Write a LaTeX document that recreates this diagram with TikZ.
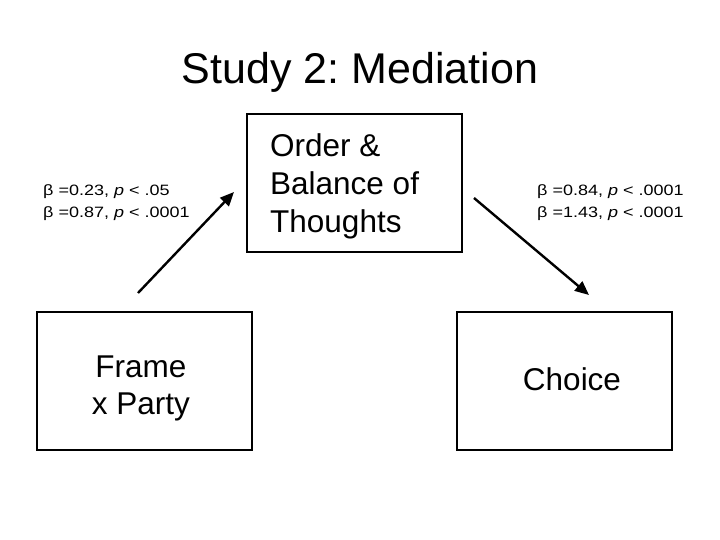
\documentclass[tikz,border=0pt]{standalone}
\usepackage{fontspec}
\setmainfont{Liberation Sans}
\newfontfamily\lblfont[FakeStretch=1.2]{Liberation Sans}
\usetikzlibrary{arrows.meta}
\frenchspacing
\begin{document}
\begin{tikzpicture}[x=1pt,y=-1pt,
  box/.style={draw=black, line width=1.1pt, minimum width=215pt, minimum height=138pt, inner sep=0pt},
  bigtxt/.style={font=\fontsize{31.5}{35}\selectfont, inner sep=0pt},
  lbl/.style={font=\lblfont\fontsize{15}{20}\selectfont, inner sep=0pt, anchor=base west},
  arr/.style={line width=2.4pt, -{Triangle[length=14pt,width=12pt]}}
]
\useasboundingbox (0,0) rectangle (720,540);
\fill[white] (0,0) rectangle (720,540);

\node[anchor=base, inner sep=0pt, font=\fontsize{43}{50}\selectfont] (title) at (360,84) {Study 2: Mediation};

\node[box] (mid) at (354.5,183) {};
\node[box] (fp) at (144.5,381) {};
\node[box] (ch) at (564.5,381) {};

\node[bigtxt, anchor=base west] (midt1) at (270,157) {Order \&};
\node[bigtxt, anchor=base west] (midt2) at (270,195) {Balance of};
\node[bigtxt, anchor=base west] (midt3) at (270,233) {Thoughts};

\node[bigtxt, anchor=base] (fpt1) at (141,377) {Frame};
\node[bigtxt, anchor=base] (fpt2) at (141,414) {x Party};

\node[bigtxt, anchor=base] (cht) at (572,390) {Choice};

\node[lbl] (l1) at (43,196) {β =0.23, \textit{p} < .05};
\node[lbl] (l2) at (43,218) {β =0.87, \textit{p} < .0001};
\node[lbl] (r1) at (537,196) {β =0.84, \textit{p} < .0001};
\node[lbl] (r2) at (537,218) {β =1.43, \textit{p} < .0001};

\coordinate (a1s) at (138,293);
\coordinate (a1e) at (234,192);
\coordinate (a2s) at (474,198);
\coordinate (a2e) at (589,295);
\draw[arr] (a1s) -- (a1e);
\draw[arr] (a2s) -- (a2e);
\end{tikzpicture}
\end{document}
